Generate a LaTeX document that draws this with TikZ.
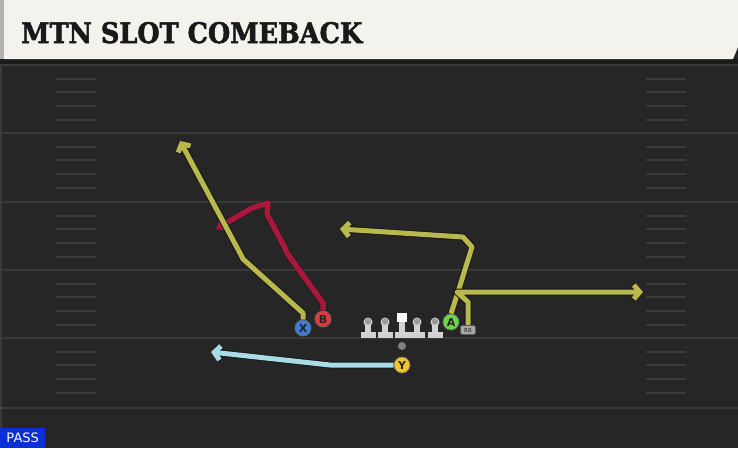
\documentclass[tikz,border=0pt]{standalone}
\usepackage{fontspec}
\setmainfont{DejaVu Serif}
\newfontfamily\titlef{DejaVu Serif}[BoldFeatures={FakeBold=2}]
\newfontfamily\sansf{DejaVu Sans}
\usetikzlibrary{arrows.meta}
\definecolor{fieldbg}{HTML}{262626}
\definecolor{bandc}{HTML}{1B1B1B}
\definecolor{hdr}{HTML}{F4F2EC}
\definecolor{yardc}{HTML}{3A3A3A}
\definecolor{hashc}{HTML}{3C3C3C}
\definecolor{routey}{HTML}{B9B84C}
\definecolor{router}{HTML}{A8173C}
\definecolor{routeb}{HTML}{A7DCE6}
\definecolor{cX}{HTML}{3D7BDB}
\definecolor{cB}{HTML}{E5353F}
\definecolor{cA}{HTML}{6AD846}
\definecolor{cY}{HTML}{F1C430}
\definecolor{passb}{HTML}{0B2FD6}
\definecolor{lmc}{HTML}{D2D2D2}
\definecolor{headc}{HTML}{9A9A9A}
\newcommand\playroute[4]{%
  \draw[outl,line width=#4,#1] #3;
  \draw[rt,#2,#1] #3;}
\tikzset{
  outl/.style={draw=black!90, line join=round, line cap=butt},
  rt/.style={line width=5pt, line join=round, line cap=butt},
  player/.style={circle, minimum size=16pt, inner sep=0pt, draw=black!60, line width=0.6pt,
    text=black!85, font=\sansf\bfseries\fontsize{11}{11}\selectfont},
  rbtag/.style={rounded corners=2pt, fill=black!35, draw=black!70, line width=0.5pt, minimum width=15pt,
    minimum height=9pt, inner sep=0pt, text=black!85, font=\sansf\fontsize{5.5}{5.5}\selectfont},
  barb/.style={-{Straight Barb[length=6pt,width=14pt]}},
  tri/.style={-{Triangle[length=10pt,width=16pt]}}
}
\begin{document}
\begin{tikzpicture}[x=1pt,y=-1pt]
\useasboundingbox (0,0) rectangle (738,448);
% field
\fill[fieldbg] (0,0) rectangle (738,448);
\fill[bandc] (0,59) rectangle (738,65);
\fill[yardc] (0,65) rectangle (2,448);
\foreach \yy in {65,133,202,270,338,408}
  \draw[yardc, line width=1.5pt] (0,\yy) -- (738,\yy);
\foreach \b in {65,133,202,270,338}
  \foreach \o in {14,27,41,55} {
    \draw[hashc, line width=1.2pt] (56,\b+\o) -- (96,\b+\o);
    \draw[hashc, line width=1.2pt] (646,\b+\o) -- (686,\b+\o);
  }
% header
\fill[hdr] (4,0) -- (738,0) -- (738,47) -- (733,59) -- (4,59) -- cycle;
\fill[black!30] (0,0) rectangle (4,59);
\node[anchor=base west, inner sep=0pt, text=black!90] (title) at (21,43)
  {\resizebox{341pt}{21pt}{\titlef\bfseries MTN SLOT COMEBACK}};
% players
\node[player, fill=cX] (X) at (303,328) {X};
\node[player, fill=cB] (B) at (323,319) {B};
\node[player, fill=cA] (A) at (451,322) {A};
\node[player, fill=cY] (Y) at (402,365) {Y};
\node[rbtag] (RB) at (468,330) {RB};
\node[circle, fill=black!50, minimum size=8pt, inner sep=0pt] (ball) at (402,346) {};
% route end points
\coordinate (xend) at (180,141);
\coordinate (bend) at (216,229);
\coordinate (aend) at (340,229);
\coordinate (rbend) at (643,292);
\coordinate (yend) at (211,352);
% routes
\playroute{tri}{draw=router,line width=5.5pt}{(B.north) -- (323,303) -- (287,253) -- (284,246) -- (267,214) -- (268,203) -- (252,208) -- (bend)}{6.5pt}
\playroute{barb}{draw=routey}{(X.north) -- (303,313) -- (243,259) -- (241,255) -- (xend)}{7pt}
\playroute{barb}{draw=routey}{(A.north) -- (458,292) -- (472,247) -- (463,237) -- (aend)}{7pt}
\playroute{barb}{draw=routey}{(RB.north) -- (468,302) -- (457,292) -- (rbend)}{7pt}
\playroute{barb}{draw=routeb}{(Y.west) -- (330,365) -- (yend)}{7pt}
% redraw players on top
\node[player, fill=cX] at (X) {X};
\node[player, fill=cB] at (B) {B};
\node[player, fill=cA] at (A) {A};
\node[player, fill=cY] at (Y) {Y};
\node[rbtag] at (RB) {RB};
% linemen
\foreach \lx in {368,385,417,435} {
  \fill[lmc] (\lx-7.5,332) rectangle (\lx+7.5,338);
  \fill[lmc] (\lx-3,322) rectangle (\lx+3,333);
  \fill[lmc] (\lx,322) circle (4.5);
  \fill[headc] (\lx,321.5) circle (3.2);
}
\fill[lmc] (394.5,332) rectangle (409.5,338);
\fill[lmc] (399,321) rectangle (405,333);
\fill[white] (397,313) rectangle (407,322);
% pass tag
\node[fill=passb, text=white, anchor=south west, minimum width=45pt, minimum height=20pt,
  inner sep=0pt, font=\sansf\fontsize{13}{13}\selectfont] (pass) at (0,448) {PASS};
\end{tikzpicture}
\end{document}
